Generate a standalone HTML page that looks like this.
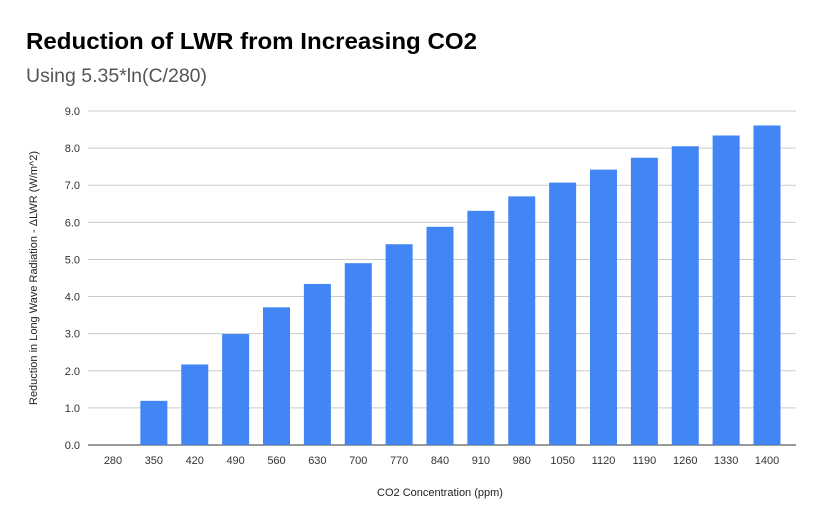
<!DOCTYPE html>
<html><head><meta charset="utf-8"><style>
body{margin:0;background:#fff;font-family:"Liberation Sans",Arial,sans-serif}
svg text{font-family:"Liberation Sans",Arial,sans-serif}
</style></head><body>
<svg id="chart" width="822" height="524" xmlns="http://www.w3.org/2000/svg">
<rect width="822" height="524" fill="#fff"/>
<text x="26" y="49" font-size="23" font-weight="bold" fill="#000" textLength="451" lengthAdjust="spacingAndGlyphs">Reduction of LWR from Increasing CO2</text>
<text x="26" y="82" font-size="19" fill="#555" textLength="181" lengthAdjust="spacingAndGlyphs">Using 5.35*ln(C/280)</text>
<g id="grid"></g><g id="bars"></g><g id="xlabels"></g>
<text transform="translate(37,278) rotate(-90)" text-anchor="middle" font-size="11" fill="#222">Reduction in Long Wave Radiation - ΔLWR (W/m^2)</text>
<text x="440" y="496" text-anchor="middle" font-size="11" fill="#222">CO2 Concentration (ppm)</text>
</svg>
<script>
const categories=["280","350","420","490","560","630","700","770","840","910","980","1050","1120","1190","1260","1330","1400"];
const values=[0,1.19,2.17,2.99,3.71,4.34,4.90,5.41,5.88,6.31,6.70,7.07,7.42,7.74,8.05,8.34,8.61];
const yTicks=[0,1,2,3,4,5,6,7,8,9];
const NS="http://www.w3.org/2000/svg";
const x0=113,step=40.875,bw=27,left=88,right=796,yBase=445,yTop=111,yMax=9;
const y=v=>yBase-(v/yMax)*(yBase-yTop);
const x=i=>x0+i*step;
const grid=document.getElementById('grid'),bars=document.getElementById('bars'),xl=document.getElementById('xlabels');
yTicks.forEach(t=>{
 const l=document.createElementNS(NS,'line');
 l.setAttribute('x1',left);l.setAttribute('x2',right);l.setAttribute('y1',y(t));l.setAttribute('y2',y(t));
 l.setAttribute('stroke',t===0?'#333':'#ccc');l.setAttribute('stroke-width','1');
 
 
 grid.appendChild(l);
 const tx=document.createElementNS(NS,'text');
 tx.setAttribute('x',80);tx.setAttribute('y',y(t)+4);tx.setAttribute('text-anchor','end');tx.setAttribute('font-size','11');tx.setAttribute('fill','#333');
 tx.textContent=t.toFixed(1);
 
 
 grid.appendChild(tx);
});
categories.forEach((c,i)=>{
 const v=values[i];
 if(v>0){
 const r=document.createElementNS(NS,'rect');
 r.setAttribute('x',x(i)-bw/2);r.setAttribute('y',y(v));r.setAttribute('width',bw);r.setAttribute('height',yBase-y(v));r.setAttribute('fill','#4285f4');
 
 
 bars.appendChild(r);}
 const tx=document.createElementNS(NS,'text');
 tx.setAttribute('x',x(i));tx.setAttribute('y',464);tx.setAttribute('text-anchor','middle');tx.setAttribute('font-size','11');tx.setAttribute('fill','#333');
 tx.textContent=c;
 
 
 xl.appendChild(tx);
});
</script>
</body></html>
